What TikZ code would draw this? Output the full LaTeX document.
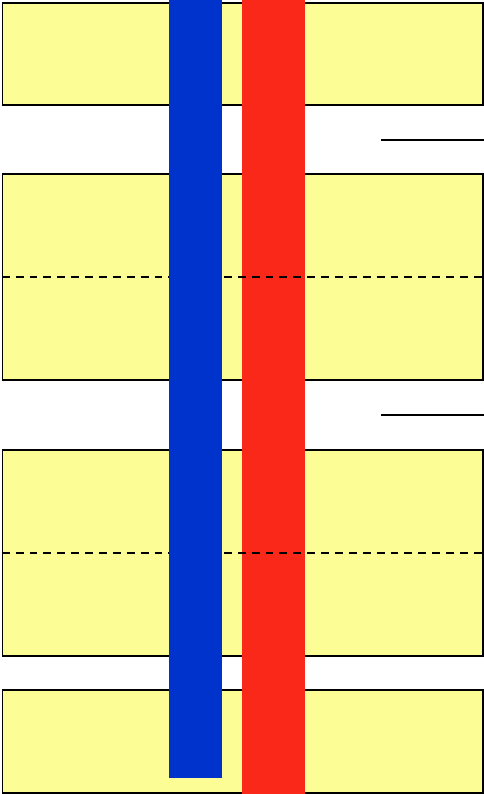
\documentclass[tikz,border=0pt]{standalone}
\usepackage{xcolor}
\definecolor{lyellow}{RGB}{253,253,150}
\definecolor{pblue}{RGB}{0,51,204}
\definecolor{pred}{RGB}{250,40,25}
\usetikzlibrary{positioning}

\begin{document}
\begin{tikzpicture}[
  layer/.style={
    rectangle, draw=black, line width=0.8pt,
    fill=lyellow,
    minimum width=9.61cm, inner sep=0pt
  },
  bar/.style={
    rectangle, draw=none, inner sep=0pt, anchor=north
  },
  midline/.style={draw=black, line width=1pt, dash pattern=on 4.5pt off 3.4pt},
  gapline/.style={draw=black, line width=1.1pt}
]
\useasboundingbox (0,0) rectangle (9.68,-15.88);

\node[layer, minimum height=2.04cm] (lay1) at (4.855,-1.08)  {};
\node[layer, minimum height=4.12cm] (lay2) at (4.855,-5.54)  {};
\node[layer, minimum height=4.12cm] (lay3) at (4.855,-11.06) {};
\node[layer, minimum height=2.06cm] (lay4) at (4.855,-14.83) {};

% red bar goes below the dashed lines, blue bar above
\node[bar, fill=pred, minimum width=1.26cm, minimum height=15.88cm] (redbar) at (5.47,0) {};

\draw[midline] (lay2.west) -- (lay2.east);
\draw[midline] (lay3.west) -- (lay3.east);

\node[bar, fill=pblue, minimum width=1.07cm, minimum height=15.56cm] (bluebar) at (3.905,0) {};

\coordinate (gap1) at (7.62,-2.80);
\coordinate (gap2) at (7.62,-8.30);
\draw[gapline] (gap1) -- (gap1 -| lay1.east);
\draw[gapline] (gap2) -- (gap2 -| lay2.east);
\end{tikzpicture}
\end{document}
